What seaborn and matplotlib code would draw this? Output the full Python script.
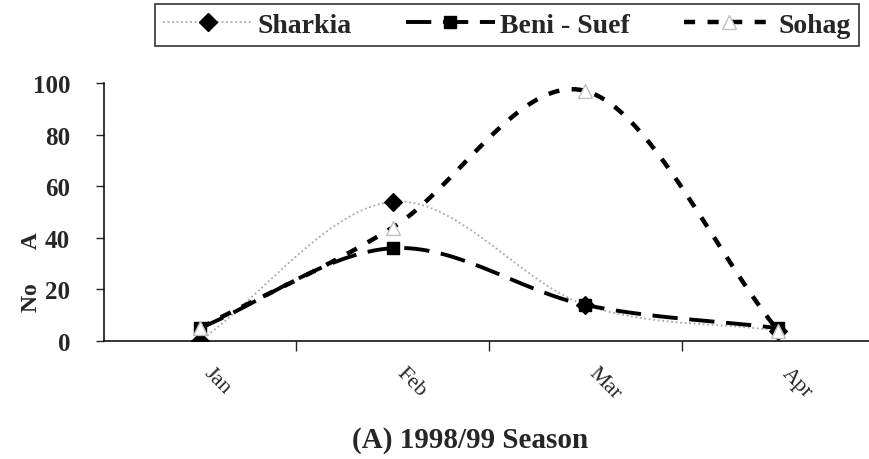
import numpy as np
import pandas as pd
import matplotlib
matplotlib.use("Agg")
import matplotlib.pyplot as plt
from matplotlib.lines import Line2D
import seaborn as sns

# values
months = ["Jan", "Feb", "Mar", "Apr"]
sharkia = [0, 54, 14, 4]
beni_suef = [5, 36, 14, 5]
sohag = [5, 44, 97, 4]

sns.set_style("ticks")
plt.rcParams['font.family'] = ['Liberation Serif', 'DejaVu Serif']


def smooth(vals, n=40):
    # catmull-rom curve through the points, like Excel's smoothed line
    p = np.array(vals, dtype=float)
    ext = np.concatenate([[2 * p[0] - p[1]], p, [2 * p[-1] - p[-2]]])
    xs, ys = [], []
    for i in range(len(p) - 1):
        p0, p1, p2, p3 = ext[i], ext[i + 1], ext[i + 2], ext[i + 3]
        t = np.linspace(0, 1, n, endpoint=(i == len(p) - 2))
        y = 0.5 * ((2 * p1) + (-p0 + p2) * t + (2 * p0 - 5 * p1 + 4 * p2 - p3) * t ** 2
                   + (-p0 + 3 * p1 - 3 * p2 + p3) * t ** 3)
        xs.append(i + t)
        ys.append(y)
    return np.concatenate(xs), np.concatenate(ys)


fig = plt.figure(figsize=(8.7, 4.6), dpi=100)
ax = fig.add_axes([0.119, 0.2565, 0.886, 0.5605])

styles = {
    "Sharkia": dict(color="#a8a8a8", lw=1.3, ls=(0, (1, 1.5)), marker="D", ms=9,
                    mfc="black", mec="black"),
    "Beni - Suef": dict(color="black", lw=2.8, ls=(0, (6.5, 3)), marker="s", ms=9,
                        mfc="black", mec="black"),
    "Sohag": dict(color="black", lw=3.2, ls=(0, (2.5, 2.8)), marker="^", ms=10,
                  mfc="white", mec="#c0c0c0"),
}
series = {"Sharkia": sharkia, "Beni - Suef": beni_suef, "Sohag": sohag}

handles = []
for name, vals in series.items():
    st = styles[name]
    sx, sy = smooth(vals)
    ax.plot(sx, sy, color=st["color"], lw=st["lw"], ls=st["ls"], zorder=2)
    df = pd.DataFrame({"x": np.arange(len(months)), "y": vals})
    sns.scatterplot(data=df, x="x", y="y", ax=ax, marker=st["marker"], s=st["ms"] ** 2,
                    color=st["mfc"], edgecolor=st["mec"], linewidth=1, zorder=3)
    handles.append(Line2D([], [], color=st["color"], lw=st["lw"], ls=st["ls"],
                          marker=st["marker"], ms=st["ms"], mfc=st["mfc"], mec=st["mec"]))

ax.set_xlim(-0.5, 3.5)
ax.set_ylim(0, 100)
ax.set_xticks(range(len(months)))
ax.set_xticklabels(months, rotation=-45, ha="left", va="top", fontsize=16)
ax.tick_params(axis="x", length=0, pad=16)
ax.set_xticks([0.5, 1.5, 2.5], minor=True)
ax.tick_params(axis="x", which="minor", length=7, width=1, direction="out")
ax.set_yticks(range(0, 101, 20))
ax.tick_params(axis="y", length=6, width=1, direction="out", labelsize=18, pad=18)
for lab in ax.get_yticklabels():
    lab.set_fontweight("bold")
ax.set_xlabel("")
ax.set_ylabel("No      A", fontsize=17, fontweight="bold")
ax.yaxis.set_label_coords(-0.08, 0.27)
fig.text(0.54, 0.043, "(A) 1998/99 Season", ha="center", va="center",
         fontsize=21, fontweight="bold")
sns.despine(ax=ax)
for sp in ax.spines.values():
    sp.set_linewidth(1.1)
    sp.set_color("black")

leg = fig.legend(handles, list(series.keys()), loc="upper left",
                 bbox_to_anchor=(0.178, 0.989), ncol=3,
                 frameon=True, fancybox=False, edgecolor="black", handlelength=3.2,
                 borderaxespad=0, prop={"size": 20, "weight": "bold"}, columnspacing=1.95,
                 handletextpad=0.2, borderpad=0.3)
leg.get_frame().set_linewidth(1.2)

fig.savefig("out.png", dpi=100)
